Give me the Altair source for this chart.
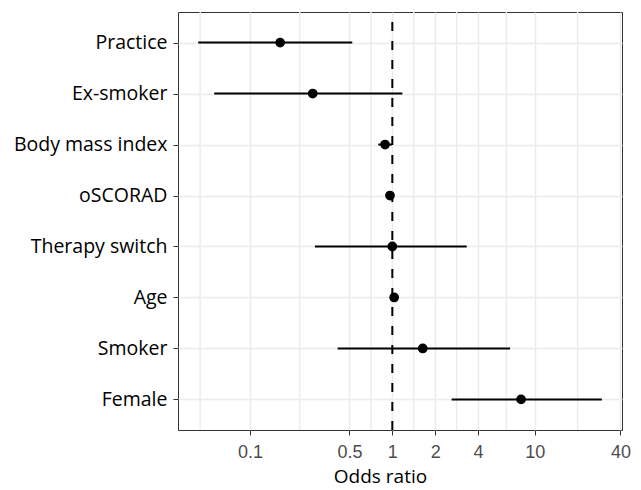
import altair as alt
import numpy as np
import pandas as pd

categories = ["Practice", "Ex-smoker", "Body mass index", "oSCORAD",
              "Therapy switch", "Age", "Smoker", "Female"]
odds_ratio = [0.163, 0.276, 0.889, 0.963, 1.0, 1.03, 1.635, 8.02]
ci_lower = [0.0433, 0.0561, 0.797, 0.945, 0.286, 1.01, 0.413, 2.61]
ci_upper = [0.523, 1.176, 0.995, 0.98, 3.33, 1.05, 6.71, 29.6]

major_ticks = [0.1, 0.5, 1, 2, 4, 10, 40]
minor_grid = [0.0447, 0.2236, 0.7071, 1.4142, 2.8284, 6.3246, 20]

df = pd.DataFrame({"cat": categories, "or": odds_ratio,
                   "lo": ci_lower, "hi": ci_upper})
minor_df = pd.DataFrame({"v": minor_grid})

# ggplot-like 5% expansion on log scale
lo = np.log10(min(ci_lower))
hi = np.log10(max(ci_upper))
pad = 0.05 * (hi - lo)
domain = [float(10 ** (lo - pad)), float(10 ** (hi + pad))]

xscale = alt.Scale(type="log", domain=domain, nice=False, zero=False)
yscale = alt.Scale(type="point", domain=categories, padding=0.6)

GRID = "#EBEBEB"

x_axis = alt.Axis(values=major_ticks, format="~g", grid=True, gridColor=GRID,
                  gridWidth=1.4, domain=False, tickColor="#333333", tickSize=5,
                  tickWidth=1, labelFont="Liberation Sans", labelFontSize=18,
                  labelColor="#4D4D4D", labelPadding=8, title="Odds ratio",
                  titleFont="Open Sans", titleFontSize=19, titleFontWeight="normal",
                  titleColor="black", titleX=202, titleY=52,
                  titleBaseline="alphabetic")
y_axis = alt.Axis(grid=True, gridColor=GRID, gridWidth=1.4, domain=False,
                  tickColor="#333333", tickSize=5, tickWidth=1,
                  labelFont="Open Sans", labelFontSize=19.5, labelColor="black",
                  labelPadding=6, title=None)

minor = alt.Chart(minor_df).mark_rule(color=GRID, strokeWidth=1.4).encode(
    x=alt.X("v:Q", scale=xscale, axis=x_axis)
)

base = alt.Chart(df)

segs = base.mark_rule(color="black", strokeWidth=2).encode(
    x=alt.X("lo:Q", scale=xscale, axis=x_axis),
    x2="hi:Q",
    y=alt.Y("cat:N", scale=yscale, axis=y_axis, sort=categories),
)

vline = alt.Chart(pd.DataFrame({"v": [1]})).mark_rule(
    color="black", strokeWidth=2, strokeDash=[9, 10], strokeDashOffset=9
).encode(x=alt.X("v:Q", scale=xscale, axis=x_axis))

pts = base.mark_point(filled=True, color="black", size=95, opacity=1).encode(
    x=alt.X("or:Q", scale=xscale, axis=x_axis),
    y=alt.Y("cat:N", scale=yscale, axis=y_axis, sort=categories),
)

chart = alt.layer(minor, vline, segs, pts).properties(
    width=444, height=418,
    padding={"left": 170, "top": 4, "right": 11, "bottom": 60},
    autosize=alt.AutoSizeParams(type="none"),
).configure_view(stroke="#333333", strokeWidth=1)

chart.save("out.html", embed_options={"renderer": "svg", "actions": False})
